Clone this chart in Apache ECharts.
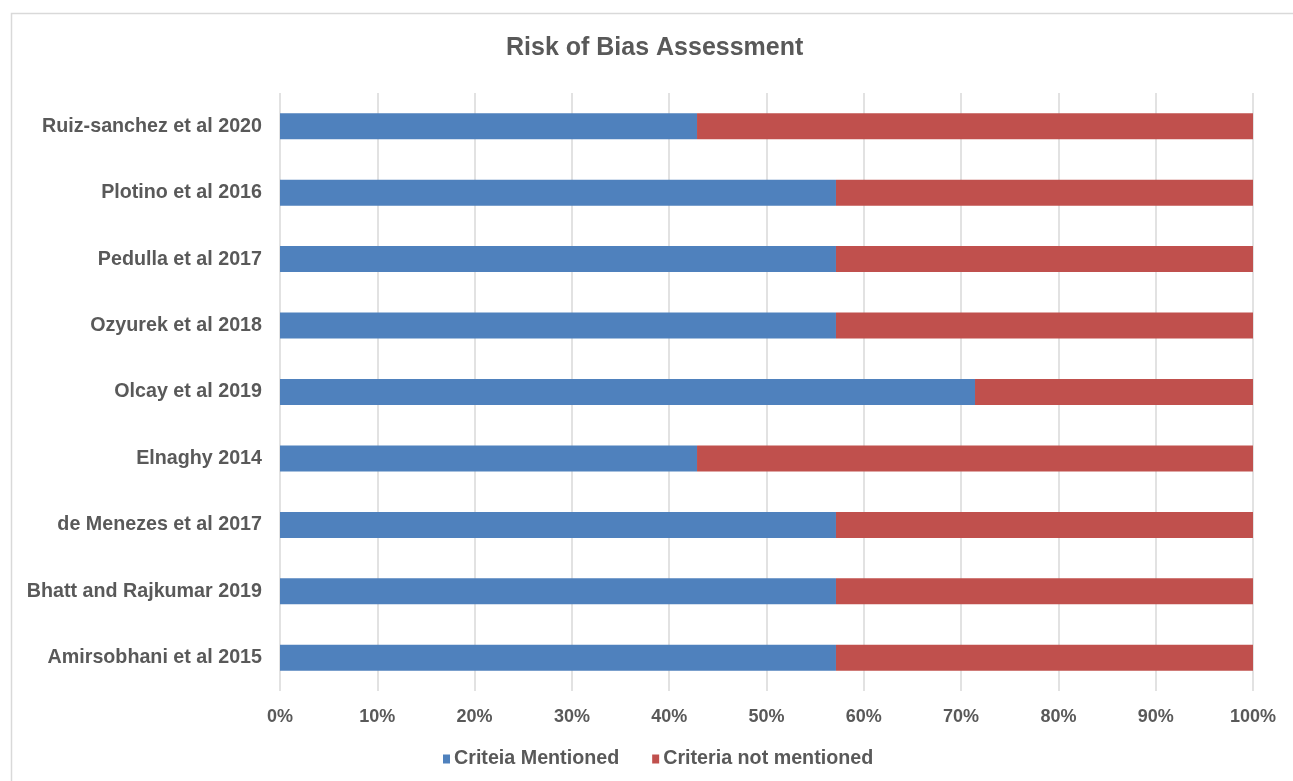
<!DOCTYPE html>
<html>
<head>
<meta charset="utf-8">
<script src="https://cdn.jsdelivr.net/npm/echarts@6/dist/echarts.min.js"></script>
<style>html,body{margin:0;padding:0;background:#fff;}#c{width:1293px;height:781px;}</style>
</head>
<body>
<div id="c"></div>
<script>
var categories = ["Amirsobhani et al 2015","Bhatt and Rajkumar 2019","de Menezes et al 2017","Elnaghy 2014","Olcay et al 2019","Ozyurek et al 2018","Pedulla et al 2017","Plotino et al 2016","Ruiz-sanchez et al 2020"];
var mentioned = [57.14, 57.14, 57.14, 42.86, 71.43, 57.14, 57.14, 57.14, 42.86];
var notMentioned = [42.86, 42.86, 42.86, 57.14, 28.57, 42.86, 42.86, 42.86, 57.14];
var seriesNames = ["Criteia Mentioned", "Criteria not mentioned"];
var FONT = "Liberation Sans";
var chart = echarts.init(document.getElementById('c'));
chart.setOption({
  animation: false,
  graphic: [{type:'rect', shape:{x:11.5,y:13.5,width:1300,height:800}, style:{fill:'none', stroke:'#D9D9D9', lineWidth:1.5}, silent:true}],
  title: {text:'Risk of Bias Assessment', left:506, top:36, padding:0, textStyle:{fontFamily:FONT, fontSize:25, fontWeight:'bold', color:'#595959'}},
  legend: {top:749, left:443, padding:0, itemWidth:7, itemHeight:9, itemGap:33, icon:'rect',
    textStyle:{fontFamily:FONT, fontSize:19.7, fontWeight:'bold', color:'#595959', padding:[0,0,0,-1]}},
  grid: {left:280, right:40, top:93, bottom:90, containLabel:false},
  xAxis: {type:'value', min:0, max:100, interval:10,
    axisLabel:{formatter:'{value}%', fontFamily:FONT, fontSize:18, fontWeight:'bold', color:'#595959', margin:17},
    axisLine:{show:false}, axisTick:{show:false},
    splitLine:{lineStyle:{color:'#D9D9D9', width:1.5}}},
  yAxis: {type:'category', data:categories,
    axisLabel:{fontFamily:FONT, fontSize:19.7, fontWeight:'bold', color:'#595959', margin:18},
    axisLine:{show:false}, axisTick:{show:false}},
  series: [
    {name:seriesNames[0], type:'bar', stack:'a', data:mentioned, barWidth:26, itemStyle:{color:'#4F81BD'}},
    {name:seriesNames[1], type:'bar', stack:'a', data:notMentioned, barWidth:26, itemStyle:{color:'#C0504D'}}
  ]
});
</script>
</body>
</html>
